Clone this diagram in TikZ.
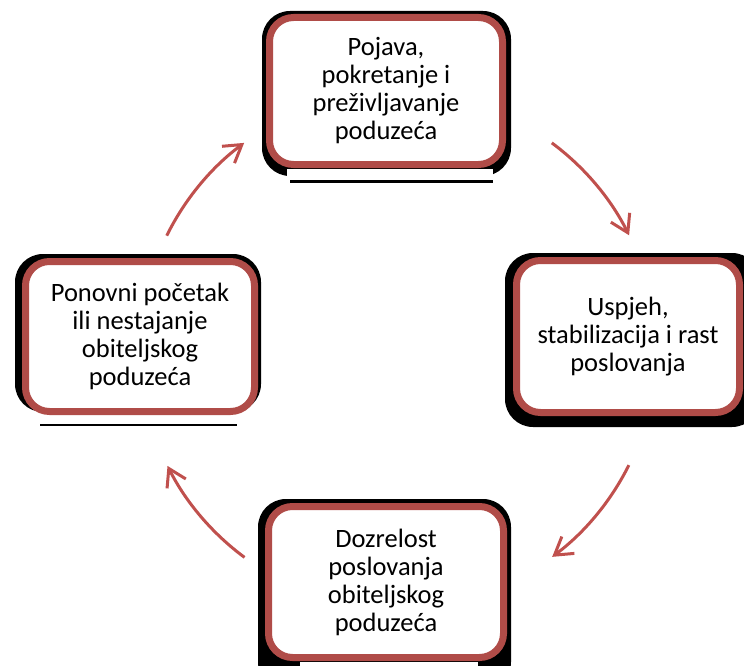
\documentclass[tikz,border=0pt]{standalone}
\usepackage{fontspec}
\setmainfont{Carlito}
\usetikzlibrary{arrows.meta}
\definecolor{boxred}{HTML}{B04C48}
\definecolor{arrred}{HTML}{C0504D}
\tikzset{
  redbox/.style={draw=boxred, line width=7pt, fill=white, rounded corners=24pt,
    align=center, font=\fontsize{26.5}{28}\selectfont, text=black, inner sep=0pt},
  shadowbox/.style={fill=black, rounded corners=28pt},
  cover/.style={fill=white},
  baseline/.style={draw=black, line width=2.2pt},
  cyclearrow/.style={draw=arrred, line width=3pt,
    -{Straight Barb[length=17pt,width=21pt,line width=3pt]}}
}
\begin{document}
\begin{tikzpicture}[x=1pt,y=1pt]
\useasboundingbox (0,0) rectangle (744,-666);
% shadows
\fill[shadowbox] (262,-11) rectangle (511,-176);
\fill[cover] (287,-168.5) rectangle (493,-180);
\draw[baseline] (290,-181.5) -- (493,-181.5);
\fill[shadowbox] (505,-253) rectangle (760,-427);
\fill[shadowbox] (258,-499) rectangle (511,-690);
\fill[cover] (300,-662) rectangle (478,-670);
\fill[shadowbox] (15,-254) rectangle (261,-412);
\draw[baseline] (40,-425) -- (237,-425);
% boxes
\node[redbox, minimum width=233pt, minimum height=147pt] (T) at (386,-91)
  {Pojava,\\pokretanje i\\preživljavanje\\poduzeća};
\node[redbox, minimum width=223pt, minimum height=152pt] (R) at (628,-336.5)
  {Uspjeh,\\stabilizacija i rast\\poslovanja};
\node[redbox, minimum width=235pt, minimum height=151pt] (B) at (386,-582)
  {Dozrelost\\poslovanja\\obiteljskog\\poduzeća};
\node[redbox, minimum width=229pt, minimum height=150pt] (L) at (140,-336.5)
  {Ponovni početak\\ili nestajanje\\obiteljskog\\poduzeća};
% arrows
\coordinate (C) at (398,-350);
\coordinate (a1) at ([shift={(53.4:258)}]C);
\coordinate (a2) at ([shift={(-26.5:258)}]C);
\coordinate (a3) at ([shift={(-126.5:258)}]C);
\coordinate (a4) at ([shift={(153.7:258)}]C);
\draw[cyclearrow] (a1) arc[start angle=53.4, end angle=26.4, radius=258];
\draw[cyclearrow] (a2) arc[start angle=-26.5, end angle=-53.3, radius=258];
\draw[cyclearrow] (a3) arc[start angle=-126.5, end angle=-153.3, radius=258];
\draw[cyclearrow] (a4) arc[start angle=153.7, end angle=126.6, radius=258];
\end{tikzpicture}
\end{document}
